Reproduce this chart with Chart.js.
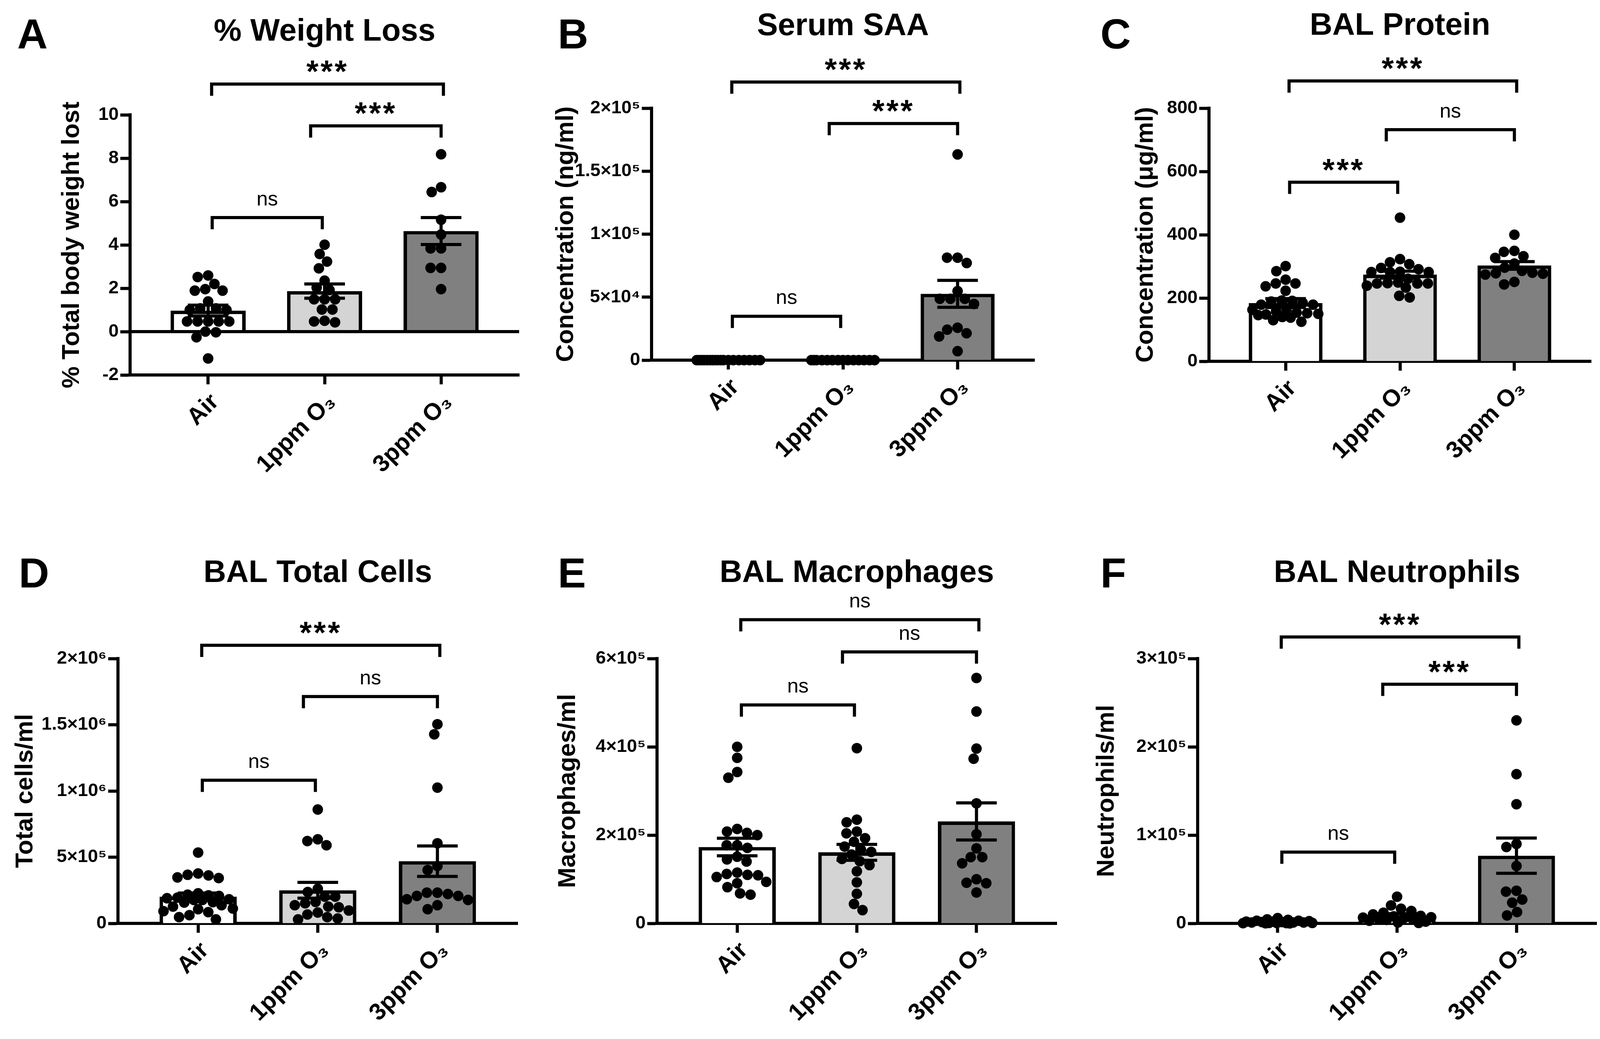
<!DOCTYPE html>
<html>
<head>
<meta charset="utf-8">
<script src="https://cdn.jsdelivr.net/npm/chart.js@4.4.1/dist/chart.umd.min.js"></script>
<style>
html,body{margin:0;padding:0;background:#fff;}
#fig{position:relative;width:4124px;height:2660px;background:#fff;overflow:hidden;}
canvas{position:absolute;}
</style>
</head>
<body>
<div id="fig"></div>
<script>
// ---------------- DATA ----------------
const categories = ['Air', '1ppm O\u2083', '3ppm O\u2083'];

// A: % Weight Loss
const weightAir  = [2.59, 2.52, 2.2, 1.96, 1.89, 1.89, 1.39, 1.07, 1.07, 1.0, 1.0, 0.47, 0.47, 0.47, 0.47, 0.47, 0, -0.03, -0.26, -1.24];
const weight1ppm = [4.01, 3.58, 3.23, 2.92, 2.35, 2.03, 1.92, 1.49, 1.49, 1.49, 1.02, 1.02, 0.5, 0.47, 0.43];
const weight3ppm = [8.18, 6.66, 6.44, 5.16, 4.48, 3.84, 3.84, 2.94, 2.94, 1.96];
const weightMean = [0.97, 1.87, 4.64];
const weightSem  = [0.25, 0.33, 0.62];
const weightTicks = [-2, 0, 2, 4, 6, 8, 10];
const weightTickLabels = ['-2', '0', '2', '4', '6', '8', '10'];
const weightSig = [[0, 2, 11.42, '***'], [1, 2, 9.49, '***'], [0, 1, 5.26, 'ns']];

// B: Serum SAA
const saaAir  = [0, 0, 0, 0, 0, 0, 0, 0, 0, 0, 0, 0, 0, 0, 0, 0, 0, 0];
const saa1ppm = [0, 0, 0, 0, 0, 0, 0, 0, 0, 0, 0, 0, 0, 0];
const saa3ppm = [163300, 81300, 81300, 77100, 54800, 48700, 48700, 48700, 44600, 25700, 24200, 21300, 18800, 7100];
const saaMean = [0, 0, 52600];
const saaSem  = [0, 0, 10700];
const saaTicks = [0, 50000, 100000, 150000, 200000];
const saaTickLabels = ['0', '5\u00d710\u2074', '1\u00d710\u2075', '1.5\u00d710\u2075', '2\u00d710\u2075'];
const saaSig = [[0, 2, 220800, '***'], [1, 2, 187800, '***'], [0, 1, 34800, 'ns']];

// C: BAL Protein
const protAir  = [301, 285, 258, 246, 246, 237, 223, 192, 191, 189, 185, 179, 179, 163, 163, 158, 154, 152, 150, 148, 146, 140, 138, 130, 125];
const prot1ppm = [454, 323, 313, 307, 295, 291, 283, 282, 282, 282, 261, 249, 247, 246, 246, 246, 239, 233, 207, 202];
const prot3ppm = [400, 349, 346, 332, 327, 309, 296, 286, 280, 278, 277, 274, 251, 243];
const protMean = [184, 274, 303];
const protSem  = [14, 11, 12];
const protTicks = [0, 200, 400, 600, 800];
const protTickLabels = ['0', '200', '400', '600', '800'];
const protSig = [[0, 2, 886, '***'], [1, 2, 732, 'ns'], [0, 1, 566, '***']];

// D: BAL Total Cells
const cellsAir  = [535000, 377000, 367000, 362000, 347000, 342000, 227000, 217000, 212000, 207000, 195000, 190000, 182000, 177000, 177000, 160000, 157000, 137000, 127000, 112000, 107000, 92000, 85000, 62000, 47000, 30000];
const cells1ppm = [860000, 635000, 622000, 590000, 262000, 237000, 202000, 202000, 162000, 152000, 137000, 127000, 122000, 97000, 82000, 67000, 47000, 37000, 30000];
const cells3ppm = [1504000, 1428000, 1025000, 605000, 433000, 403000, 232000, 232000, 222000, 207000, 207000, 182000, 177000, 137000, 107000];
const cellsMean = [202000, 250000, 470000];
const cellsSem  = [27000, 60000, 115000];
const cellsTicks = [0, 500000, 1000000, 1500000, 2000000];
const cellsTickLabels = ['0', '5\u00d710\u2075', '1\u00d710\u2076', '1.5\u00d710\u2076', '2\u00d710\u2076'];
const cellsSig = [[0, 2, 2100000, '***'], [1, 2, 1713000, 'ns'], [0, 1, 1081000, 'ns']];

// E: BAL Macrophages
const macAir  = [400000, 375000, 343000, 330000, 214000, 208000, 205000, 200000, 177000, 177000, 171000, 151000, 145000, 140000, 115000, 112000, 110000, 109000, 105000, 94000, 91000, 82000, 68000, 65000];
const mac1ppm = [397000, 235000, 229000, 208000, 204000, 193000, 185000, 174000, 167000, 162000, 156000, 146000, 141000, 132000, 118000, 93000, 67000, 44000, 30000];
const mac3ppm = [556000, 480000, 396000, 373000, 272000, 202000, 170000, 150000, 150000, 136000, 100000, 92000, 91000, 70000];
const macMean = [173000, 161000, 231000];
const macSem  = [20000, 18000, 42000];
const macTicks = [0, 200000, 400000, 600000];
const macTickLabels = ['0', '2\u00d710\u2075', '4\u00d710\u2075', '6\u00d710\u2075'];
const macSig = [[0, 2, 688000, 'ns'], [1, 2, 615000, 'ns'], [0, 1, 495000, 'ns']];

// F: BAL Neutrophils
const neuAir  = [6000, 4500, 4000, 3000, 3000, 2500, 2000, 2000, 1500, 1500, 1000, 1000, 1000, 500, 500, 500, 300, 200, 100, 0];
const neu1ppm = [30200, 20400, 16600, 14000, 12100, 10200, 8500, 8000, 7000, 6500, 6000, 5000, 4500, 4000, 3000, 2000, 1000, 500];
const neu3ppm = [230000, 169000, 135000, 90000, 86500, 65000, 37000, 36000, 27000, 23400, 12800, 9000];
const neuMean = [1800, 8900, 76700];
const neuSem  = [400, 2000, 20000];
const neuTicks = [0, 100000, 200000, 300000];
const neuTickLabels = ['0', '1\u00d710\u2075', '2\u00d710\u2075', '3\u00d710\u2075'];
const neuSig = [[0, 2, 324500, '***'], [1, 2, 270900, '***'], [0, 1, 80800, 'ns']];

// ---------------- STYLE ----------------
const FONT = "'Liberation Sans', Arial, Helvetica, sans-serif";
const BAR_FILLS = ['#ffffff', '#d4d4d4', '#808080'];
const DOT_R = 13.5;
const LINE_W = 8;
const BAR_BORDER = 9;
const CAP_W = 104;
const LEG = 30;
const X_MIN = -0.67, X_MAX = 2.67;
const BRACKET_INSETS = { outer: [0.03, 0.02], right: [-0.12, 0.0], left: [0.035, -0.02] };

Chart.defaults.font.family = FONT;
Chart.defaults.color = '#000';

// ---------------- PANELS (layout in page px) ----------------
const panels = [
  { letter: 'A', title: '% Weight Loss', yTitle: '% Total body weight lost',
    groups: [weightAir, weight1ppm, weight3ppm], means: weightMean, sems: weightSem,
    ticks: weightTicks, tickLabels: weightTickLabels, sig: weightSig, min: -2, max: 10, zeroLine: true,
    x0: 0, y0: 0, w: 1380, h: 1320, axisX: 333, plotRight: 1329, yTop: 294, yBottom: 960,
    yTitleX: 185, titleY: 75, letterX: 44, letterY: 85 },
  { letter: 'B', title: 'Serum SAA', yTitle: 'Concentration (ng/ml)',
    groups: [saaAir, saa1ppm, saa3ppm], means: saaMean, sems: saaSem,
    ticks: saaTicks, tickLabels: saaTickLabels, sig: saaSig, min: 0, max: 200000,
    x0: 1380, y0: 0, w: 1380, h: 1320, axisX: 1668, plotRight: 2648, yTop: 277, yBottom: 922,
    yTitleX: 1450, titleY: 61, letterX: 1428, letterY: 85 },
  { letter: 'C', title: 'BAL Protein', yTitle: 'Concentration (\u03bcg/ml)',
    groups: [protAir, prot1ppm, prot3ppm], means: protMean, sems: protSem,
    ticks: protTicks, tickLabels: protTickLabels, sig: protSig, min: 0, max: 800,
    x0: 2760, y0: 0, w: 1364, h: 1320, axisX: 3095, plotRight: 4073, yTop: 277, yBottom: 925,
    yTitleX: 2934, titleY: 60, letterX: 2817, letterY: 85 },
  { letter: 'D', title: 'BAL Total Cells', yTitle: 'Total cells/ml',
    groups: [cellsAir, cells1ppm, cells3ppm], means: cellsMean, sems: cellsSem,
    ticks: cellsTicks, tickLabels: cellsTickLabels, sig: cellsSig, min: 0, max: 2000000,
    x0: 0, y0: 1320, w: 1380, h: 1340, axisX: 302, plotRight: 1325, yTop: 1686, yBottom: 2364,
    yTitleX: 66, titleY: 1461, letterX: 48, letterY: 1465 },
  { letter: 'E', title: 'BAL Macrophages', yTitle: 'Macrophages/ml',
    groups: [macAir, mac1ppm, mac3ppm], means: macMean, sems: macSem,
    ticks: macTicks, tickLabels: macTickLabels, sig: macSig, min: 0, max: 600000,
    x0: 1380, y0: 1320, w: 1380, h: 1340, axisX: 1682, plotRight: 2705, yTop: 1686, yBottom: 2364,
    yTitleX: 1455, titleY: 1461, letterX: 1428, letterY: 1465 },
  { letter: 'F', title: 'BAL Neutrophils', yTitle: 'Neutrophils/ml',
    groups: [neuAir, neu1ppm, neu3ppm], means: neuMean, sems: neuSem,
    ticks: neuTicks, tickLabels: neuTickLabels, sig: neuSig, min: 0, max: 300000,
    x0: 2760, y0: 1320, w: 1364, h: 1340, axisX: 3066, plotRight: 4087, yTop: 1686, yBottom: 2364,
    yTitleX: 2834, titleY: 1461, letterX: 2817, letterY: 1465 }
];

// ---------------- HELPERS ----------------
function drawCentered(ctx, text, cx, cy) {
  ctx.textAlign = 'center';
  ctx.textBaseline = 'alphabetic';
  const m = ctx.measureText(text);
  const base = cy + (m.actualBoundingBoxAscent - m.actualBoundingBoxDescent) / 2;
  ctx.fillText(text, cx, base);
}

function beeswarm(ys, d, maxHalf) {
  const placed = [];
  const out = new Array(ys.length);
  for (let i = 0; i < ys.length; i++) {
    const y = ys[i];
    const ivs = [];
    for (const p of placed) {
      const dy = Math.abs(p.y - y);
      if (dy < d) { const h = Math.sqrt(d * d - dy * dy); ivs.push([p.x - h, p.x + h]); }
    }
    const cands = [0];
    ivs.forEach(([a, b]) => { cands.push(a, b); });
    cands.sort((a, b) => Math.abs(a) - Math.abs(b));
    let best = null;
    for (const c of cands) {
      if (Math.abs(c) > maxHalf + 1e-6) continue;
      if (ivs.every(([a, b]) => c <= a + 1e-6 || c >= b - 1e-6)) { best = c; break; }
    }
    if (best === null) {
      let bestScore = -1;
      for (let k = -40; k <= 40; k++) {
        const c = k * maxHalf / 40;
        let md = Infinity;
        for (const p of placed) { const dd = Math.hypot(p.x - c, p.y - y); if (dd < md) md = dd; }
        if (md > bestScore + 1e-9) { bestScore = md; best = c; }
      }
    }
    placed.push({ x: best, y });
    out[i] = best;
  }
  return out;
}

function makeDecor(p) {
  return {
    id: 'decor',
    afterDatasetDraw(chart, args) {
      if (args.meta.type !== 'bar') return;
      const ctx = chart.ctx, x = chart.scales.x, y = chart.scales.y;
      ctx.save();
      ctx.strokeStyle = '#000'; ctx.lineWidth = LINE_W; ctx.lineCap = 'butt';
      p.means.forEach((m, i) => {
        const s = p.sems[i];
        if (!s) return;
        const cx = x.getPixelForValue(i);
        const yt = y.getPixelForValue(m + s), yb = y.getPixelForValue(m - s);
        ctx.beginPath();
        ctx.moveTo(cx, yt); ctx.lineTo(cx, yb);
        ctx.moveTo(cx - CAP_W / 2, yt); ctx.lineTo(cx + CAP_W / 2, yt);
        ctx.moveTo(cx - CAP_W / 2, yb); ctx.lineTo(cx + CAP_W / 2, yb);
        ctx.stroke();
      });
      ctx.restore();
    },
    afterDraw(chart) {
      const ctx = chart.ctx, ca = chart.chartArea, x = chart.scales.x, y = chart.scales.y;
      ctx.save();
      ctx.strokeStyle = '#000'; ctx.fillStyle = '#000'; ctx.lineWidth = LINE_W;
      ctx.lineCap = 'butt'; ctx.lineJoin = 'miter';
      if (p.zeroLine) {
        const z = y.getPixelForValue(0);
        ctx.beginPath(); ctx.moveTo(ca.left, z); ctx.lineTo(ca.right, z); ctx.stroke();
      }
      p.sig.forEach(([from, to, val, label]) => {
        const kind = (from === 0 && to === 2) ? 'outer' : (from === 1 ? 'right' : 'left');
        const ins = BRACKET_INSETS[kind];
        const x1 = x.getPixelForValue(from + ins[0]);
        const x2 = x.getPixelForValue(to + ins[1]);
        const yb = y.getPixelForValue(val);
        ctx.beginPath();
        ctx.moveTo(x1, yb + LEG); ctx.lineTo(x1, yb); ctx.lineTo(x2, yb); ctx.lineTo(x2, yb + LEG);
        ctx.stroke();
        if (label === 'ns') { ctx.font = '52px ' + FONT; ctx.letterSpacing = '0px'; }
        else { ctx.font = 'bold 80px ' + FONT; ctx.letterSpacing = '5px'; }
        drawCentered(ctx, label, (x1 + x2) / 2, yb - 45);
      });
      ctx.letterSpacing = '0px';
      ctx.font = 'bold 80px ' + FONT;
      ctx.textAlign = 'center'; ctx.textBaseline = 'alphabetic';
      ctx.fillText(p.title, (ca.left + ca.right) / 2, p.titleY - p.y0 + 0.716 * 80 / 2);
      ctx.font = 'bold 108px ' + FONT;
      ctx.textAlign = 'left';
      ctx.fillText(p.letter, p.letterX - p.x0, p.letterY - p.y0 + 0.716 * 108 / 2);
      ctx.restore();
    }
  };
}

// ---------------- BUILD ----------------
const fig = document.getElementById('fig');
panels.forEach(p => {
  const canvas = document.createElement('canvas');
  canvas.width = p.w; canvas.height = p.h;
  canvas.style.left = p.x0 + 'px'; canvas.style.top = p.y0 + 'px';
  canvas.style.width = p.w + 'px'; canvas.style.height = p.h + 'px';
  fig.appendChild(canvas);

  const chart = new Chart(canvas, {
    type: 'bar',
    data: {
      datasets: [
        { type: 'scatter', order: 1, data: [], clip: false,
          pointRadius: DOT_R, pointHoverRadius: DOT_R, pointBackgroundColor: '#000',
          backgroundColor: '#000', borderWidth: 0, pointBorderWidth: 0 },
        { type: 'bar', order: 2, data: p.means.map((m, i) => ({ x: i, y: m })),
          backgroundColor: BAR_FILLS, borderColor: '#000', borderWidth: BAR_BORDER,
          barPercentage: 0.645, categoryPercentage: 1 }
      ]
    },
    options: {
      responsive: false, animation: false, devicePixelRatio: 1,
      events: [],
      layout: { padding: { left: 0, top: p.yTop - p.y0, right: p.x0 + p.w - p.plotRight, bottom: 0 } },
      plugins: { legend: { display: false }, tooltip: { enabled: false }, title: { display: false } },
      scales: {
        x: {
          type: 'linear', min: X_MIN, max: X_MAX, offset: false,
          afterBuildTicks: s => { s.ticks = [0, 1, 2].map(v => ({ value: v })); },
          afterFit: s => { s.height = p.y0 + p.h - p.yBottom; },
          ticks: { callback: v => categories[v], autoSkip: false, minRotation: 45, maxRotation: 45,
                   font: { size: 61, weight: 'bold' }, color: '#000', padding: 10, labelOffset: 18 },
          grid: { display: true, drawOnChartArea: false, drawTicks: true, tickLength: 24,
                  tickWidth: LINE_W, tickColor: '#000', offset: false },
          border: { display: true, color: '#000', width: LINE_W }
        },
        y: {
          type: 'linear', min: p.min, max: p.max,
          afterBuildTicks: s => { s.ticks = p.ticks.map(v => ({ value: v })); },
          afterFit: s => { s.width = p.axisX - p.x0; },
          ticks: { callback: (v, i) => p.tickLabels[i], font: { size: 47, weight: 'bold' }, color: '#000', padding: 4 },
          grid: { display: true, drawOnChartArea: false, drawTicks: true, tickLength: 25,
                  tickWidth: LINE_W, tickColor: '#000' },
          border: { display: true, color: '#000', width: LINE_W },
          title: { display: true, text: p.yTitle, color: '#000',
                   font: { size: 63, weight: 'bold', lineHeight: 1.2 },
                   padding: { top: p.yTitleX - p.x0 - 37.8, bottom: 0 } }
        }
      }
    },
    plugins: [makeDecor(p)]
  });

  // lay the dots out as a beeswarm around each category centre
  const xs = chart.scales.x, ys = chart.scales.y;
  const pxPerCat = xs.getPixelForValue(1) - xs.getPixelForValue(0);
  const pts = [];
  p.groups.forEach((vals, gi) => {
    const yp = vals.map(v => ys.getPixelForValue(v));
    const offs = beeswarm(yp, DOT_R * 2, 0.29 * pxPerCat);
    vals.forEach((v, k) => pts.push({ x: gi + offs[k] / pxPerCat, y: v }));
  });
  chart.data.datasets[0].data = pts;
  chart.update('none');
});
</script>
</body>
</html>
